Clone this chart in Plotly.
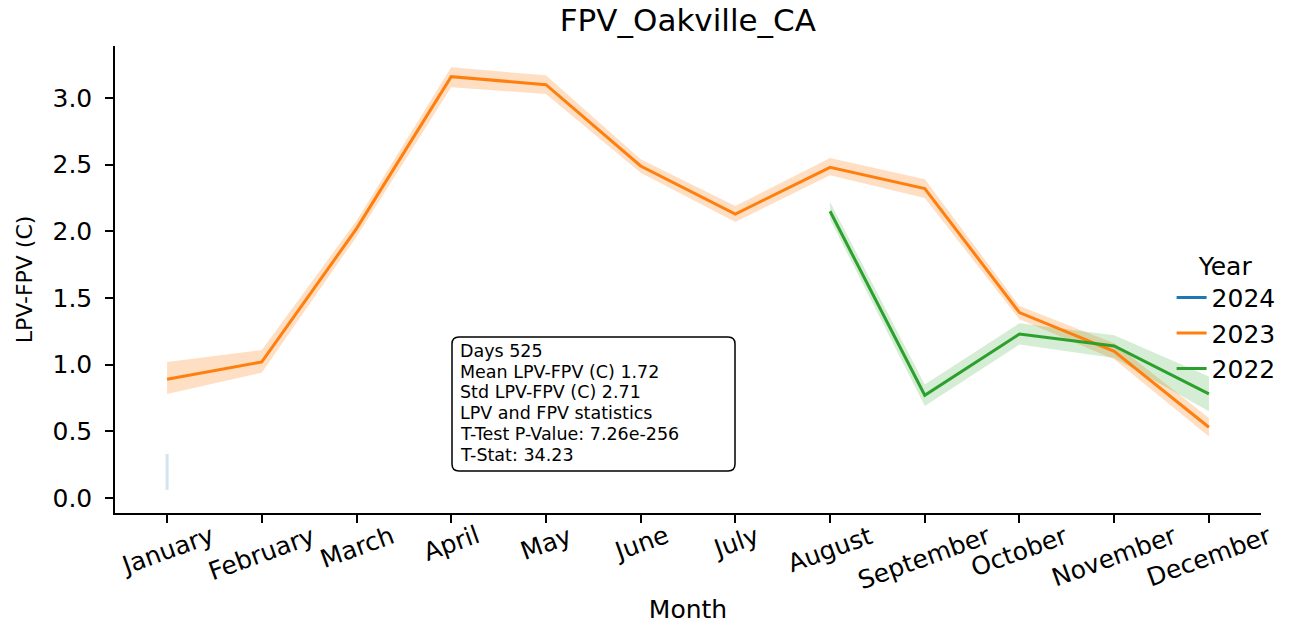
import plotly.graph_objects as go

months = ["January", "February", "March", "April", "May", "June", "July",
          "August", "September", "October", "November", "December"]

# 2023 series (mean and CI)
y2023 = [0.89, 1.02, 2.02, 3.16, 3.10, 2.49, 2.13, 2.48, 2.32, 1.39, 1.10, 0.53]
lo2023 = [0.78, 0.94, 1.96, 3.08, 3.03, 2.44, 2.07, 2.42, 2.25, 1.34, 1.04, 0.46]
hi2023 = [1.02, 1.11, 2.08, 3.23, 3.17, 2.54, 2.19, 2.55, 2.39, 1.44, 1.16, 0.60]

# 2022 series
m2022 = ["August", "September", "October", "November", "December"]
y2022 = [2.15, 0.77, 1.23, 1.14, 0.78]
lo2022 = [2.09, 0.69, 1.15, 1.05, 0.65]
hi2022 = [2.22, 0.85, 1.31, 1.22, 0.91]

# 2024 series (single month)
m2024 = ["January"]
y2024 = [0.19]
lo2024 = [0.06]
hi2024 = [0.33]

years = ["2024", "2023", "2022"]
colors = {"2024": "#1f77b4", "2023": "#ff7f0e", "2022": "#2ca02c"}
fills = {"2024": "rgba(31,119,180,0.2)", "2023": "rgba(255,127,14,0.25)",
         "2022": "rgba(44,160,44,0.2)"}

stats_lines = ["Days 525", "Mean LPV-FPV (C) 1.72", "Std LPV-FPV (C) 2.71",
               "LPV and FPV statistics", "T-Test P-Value: 7.26e-256", "T-Stat: 34.23"]

FONT = "DejaVu Sans"
L, R, T, B = 115, 32, 46, 111
W, H = 1293, 624
PW, PH = W - L - R, H - T - B


def px2paper(xp, yp):
    return (xp - L) / PW, (H - B - yp) / PH


fig = go.Figure()

series = {
    "2024": (m2024, y2024, lo2024, hi2024),
    "2023": (months, y2023, lo2023, hi2023),
    "2022": (m2022, y2022, lo2022, hi2022),
}

# confidence bands
for yr in years:
    xs, ys, lo, hi = series[yr]
    if len(xs) == 1:
        fig.add_trace(go.Scatter(x=[xs[0], xs[0]], y=[lo[0], hi[0]], mode="lines",
                                 line=dict(color=fills[yr], width=3),
                                 showlegend=False, hoverinfo="skip"))
    else:
        fig.add_trace(go.Scatter(x=list(xs) + list(xs)[::-1], y=list(hi) + list(lo)[::-1],
                                 fill="toself", fillcolor=fills[yr], mode="lines",
                                 line=dict(width=0), showlegend=False, hoverinfo="skip"))

# mean lines
for yr in years:
    xs, ys, lo, hi = series[yr]
    fig.add_trace(go.Scatter(x=xs, y=ys, mode="lines", name=yr,
                             line=dict(color=colors[yr], width=3)))

# rotated tick labels centered under ticks
for m in months:
    fig.add_annotation(x=m, y=0, xref="x", yref="paper", text=m, showarrow=False,
                       textangle=-20, yanchor="top", xanchor="center", yshift=-5,
                       font=dict(family=FONT, size=25, color="black"))

# stats box with rounded corners
x0, y1 = px2paper(452, 337)
x1, y0 = px2paper(735, 471)
rx, ry = 7 / PW, 7 / PH
path = (f"M {x0+rx},{y0} L {x1-rx},{y0} Q {x1},{y0} {x1},{y0+ry} "
        f"L {x1},{y1-ry} Q {x1},{y1} {x1-rx},{y1} L {x0+rx},{y1} "
        f"Q {x0},{y1} {x0},{y1-ry} L {x0},{y0+ry} Q {x0},{y0} {x0+rx},{y0} Z")
fig.add_shape(type="path", path=path, xref="paper", yref="paper",
              line=dict(color="black", width=1.5), fillcolor="white", layer="above")
for i, line in enumerate(stats_lines):
    tx, ty = px2paper(458, 351 + i * 20.7)
    fig.add_annotation(x=tx, y=ty, xref="paper", yref="paper", text=line,
                       showarrow=False, xanchor="left", yanchor="middle",
                       font=dict(family=FONT, size=17.5, color="black"))

fig.update_layout(
    width=W, height=H,
    margin=dict(l=L, r=R, t=T, b=B),
    plot_bgcolor="white", paper_bgcolor="white",
    font=dict(family=FONT, size=25, color="black"),
    title=dict(text="FPV_Oakville_CA", x=0.532, xanchor="center", y=0.968,
               yanchor="middle", font=dict(family=FONT, size=31)),
    xaxis=dict(type="category", categoryorder="array", categoryarray=months,
               range=[-0.55, 11.55], showline=True, linecolor="black", linewidth=1.5,
               ticks="outside", ticklen=8, tickcolor="black", tickwidth=1.5,
               showticklabels=False, automargin=False,
               showgrid=False, zeroline=False,
               title=dict(text="Month", font=dict(family=FONT, size=25), standoff=82)),
    yaxis=dict(range=[-0.113, 3.39], tickvals=[0, 0.5, 1, 1.5, 2, 2.5, 3],
               ticktext=["0.0", "0.5", "1.0", "1.5", "2.0", "2.5", "3.0"],
               showline=True, linecolor="black", linewidth=1.5, ticks="outside",
               ticklen=8, tickcolor="black", tickwidth=1.5, ticklabelstandoff=8,
               showgrid=False, zeroline=False, automargin=False,
               tickfont=dict(family=FONT, size=25),
               title=dict(text="LPV-FPV (C)", font=dict(family=FONT, size=22), standoff=14)),
    legend=dict(title=dict(text="Year", font=dict(family=FONT, size=25), side="top center"),
                x=0.922, y=0.58, xanchor="left", yanchor="top",
                bgcolor="rgba(0,0,0,0)", font=dict(family=FONT, size=25),
                tracegroupgap=0),
)

fig.write_html("out.html", config={"displayModeBar": False},
               post_script="document.body.style.margin='0';document.body.style.overflow='hidden';")
